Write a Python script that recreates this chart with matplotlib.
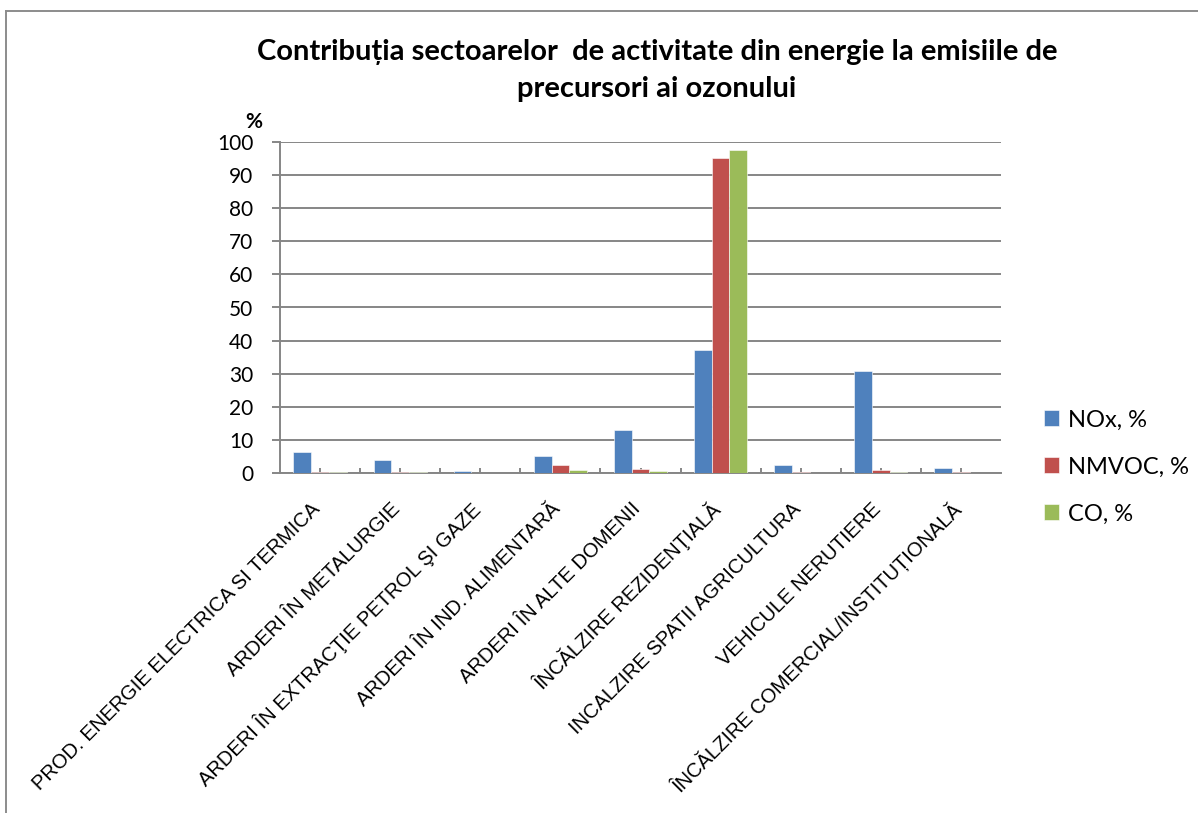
import numpy as np
import matplotlib
matplotlib.use('Agg')
import matplotlib.pyplot as plt
from matplotlib.lines import Line2D
from matplotlib.transforms import ScaledTranslation

# sectoare de activitate (categorii)
sectors = [
    'PROD. ENERGIE ELECTRICA SI TERMICA',
    'ARDERI ÎN METALURGIE',
    'ARDERI ÎN EXTRACŢIE PETROL ŞI GAZE',
    'ARDERI ÎN IND. ALIMENTARĂ',
    'ARDERI ÎN ALTE DOMENII',
    'ÎNCĂLZIRE REZIDENŢIALĂ',
    'INCALZIRE SPATII AGRICULTURA',
    'VEHICULE NERUTIERE',
    'ÎNCĂLZIRE COMERCIAL/INSTITUȚIONALĂ',
]

# valori (%)
nox = [6.3, 3.9, 0.6, 5.1, 13.0, 37.2, 2.2, 30.9, 1.4]
nmvoc = [0.3, 0.3, 0.0, 2.3, 1.0, 95.3, 0.2, 0.8, 0.1]
co = [0.2, 0.3, 0.0, 0.7, 0.5, 97.6, 0.0, 0.3, 0.0]

series = [('NOx, %', nox, '#4F81BD'),
          ('NMVOC, %', nmvoc, '#C0504D'),
          ('CO, %', co, '#9BBB59')]

W, H = 1198, 813
fig = plt.figure(figsize=(W / 100, H / 100), dpi=100)
ax = fig.add_axes([280 / W, 1 - 472.7 / H, 721 / W, (472.7 - 142.3) / H])

x = np.arange(len(sectors)) + 0.5
bw = 0.221
for i, (name, vals, col) in enumerate(series):
    ax.bar(x + (i - 1) * bw, vals, bw, color=col, label=name,
           edgecolor='white', linewidth=0.4, zorder=3)

ax.set_xlim(0, len(sectors))
ax.set_ylim(0, 100)
ax.set_yticks(range(0, 101, 10))
ax.yaxis.grid(True, color='#868686', linewidth=1.4, zorder=0)
ax.set_axisbelow(True)

for s in ['top', 'right']:
    ax.spines[s].set_visible(False)
ax.spines['left'].set_color('#868686')
ax.spines['left'].set_linewidth(1.4)
ax.spines['bottom'].set_color('#868686')
ax.spines['bottom'].set_linewidth(1.4)

ax.tick_params(axis='y', direction='out', length=5.8, width=1.4, color='#868686',
               pad=13.5, labelsize=15)
for lab in ax.get_yticklabels():
    lab.set_family('Lato')

ax.set_xticks(x)
ax.set_xticks(np.arange(1, len(sectors)), minor=True)
ax.tick_params(axis='x', which='both', direction='in', length=3.6, width=1.4,
               color='#868686')
ax.set_xticklabels(sectors, rotation=45, ha='right', va='center',
                   rotation_mode='anchor', fontsize=14.5, family='Liberation Sans')
ax.tick_params(axis='x', which='major', pad=24)
shift = ScaledTranslation(-0.03, 0, fig.dpi_scale_trans)
for lab in ax.get_xticklabels():
    lab.set_transform(lab.get_transform() + shift)

leg = ax.legend(loc='center left', bbox_to_anchor=(1044 / W, 1 - 467 / H),
                bbox_transform=fig.transFigure, frameon=False,
                prop={'family': 'Lato', 'size': 17},
                handlelength=0.63, handleheight=0.63, handletextpad=0.4,
                labelspacing=1.1, borderpad=0, borderaxespad=0)

fig.text(657 / W, 1 - 60 / H,
         'Contribuția sectoarelor  de activitate din energie la emisiile de',
         ha='center', va='baseline', fontsize=21, fontweight='bold', family='Lato')
fig.text(657 / W, 1 - 97 / H, 'precursori ai ozonului',
         ha='center', va='baseline', fontsize=21, fontweight='bold', family='Lato')
fig.text(245 / W, 1 - 128 / H, '%', ha='left', va='baseline',
         fontsize=15, fontweight='bold', family='Lato')

# chenarul graficului
fig.add_artist(Line2D([6 / W, 1], [1 - 10.7 / H, 1 - 10.7 / H],
                      transform=fig.transFigure, color='#8c8c8c', linewidth=1.4))
fig.add_artist(Line2D([6 / W, 6 / W], [0, 1 - 10.7 / H],
                      transform=fig.transFigure, color='#8c8c8c', linewidth=1.4))

fig.savefig('out.png', dpi=100)
